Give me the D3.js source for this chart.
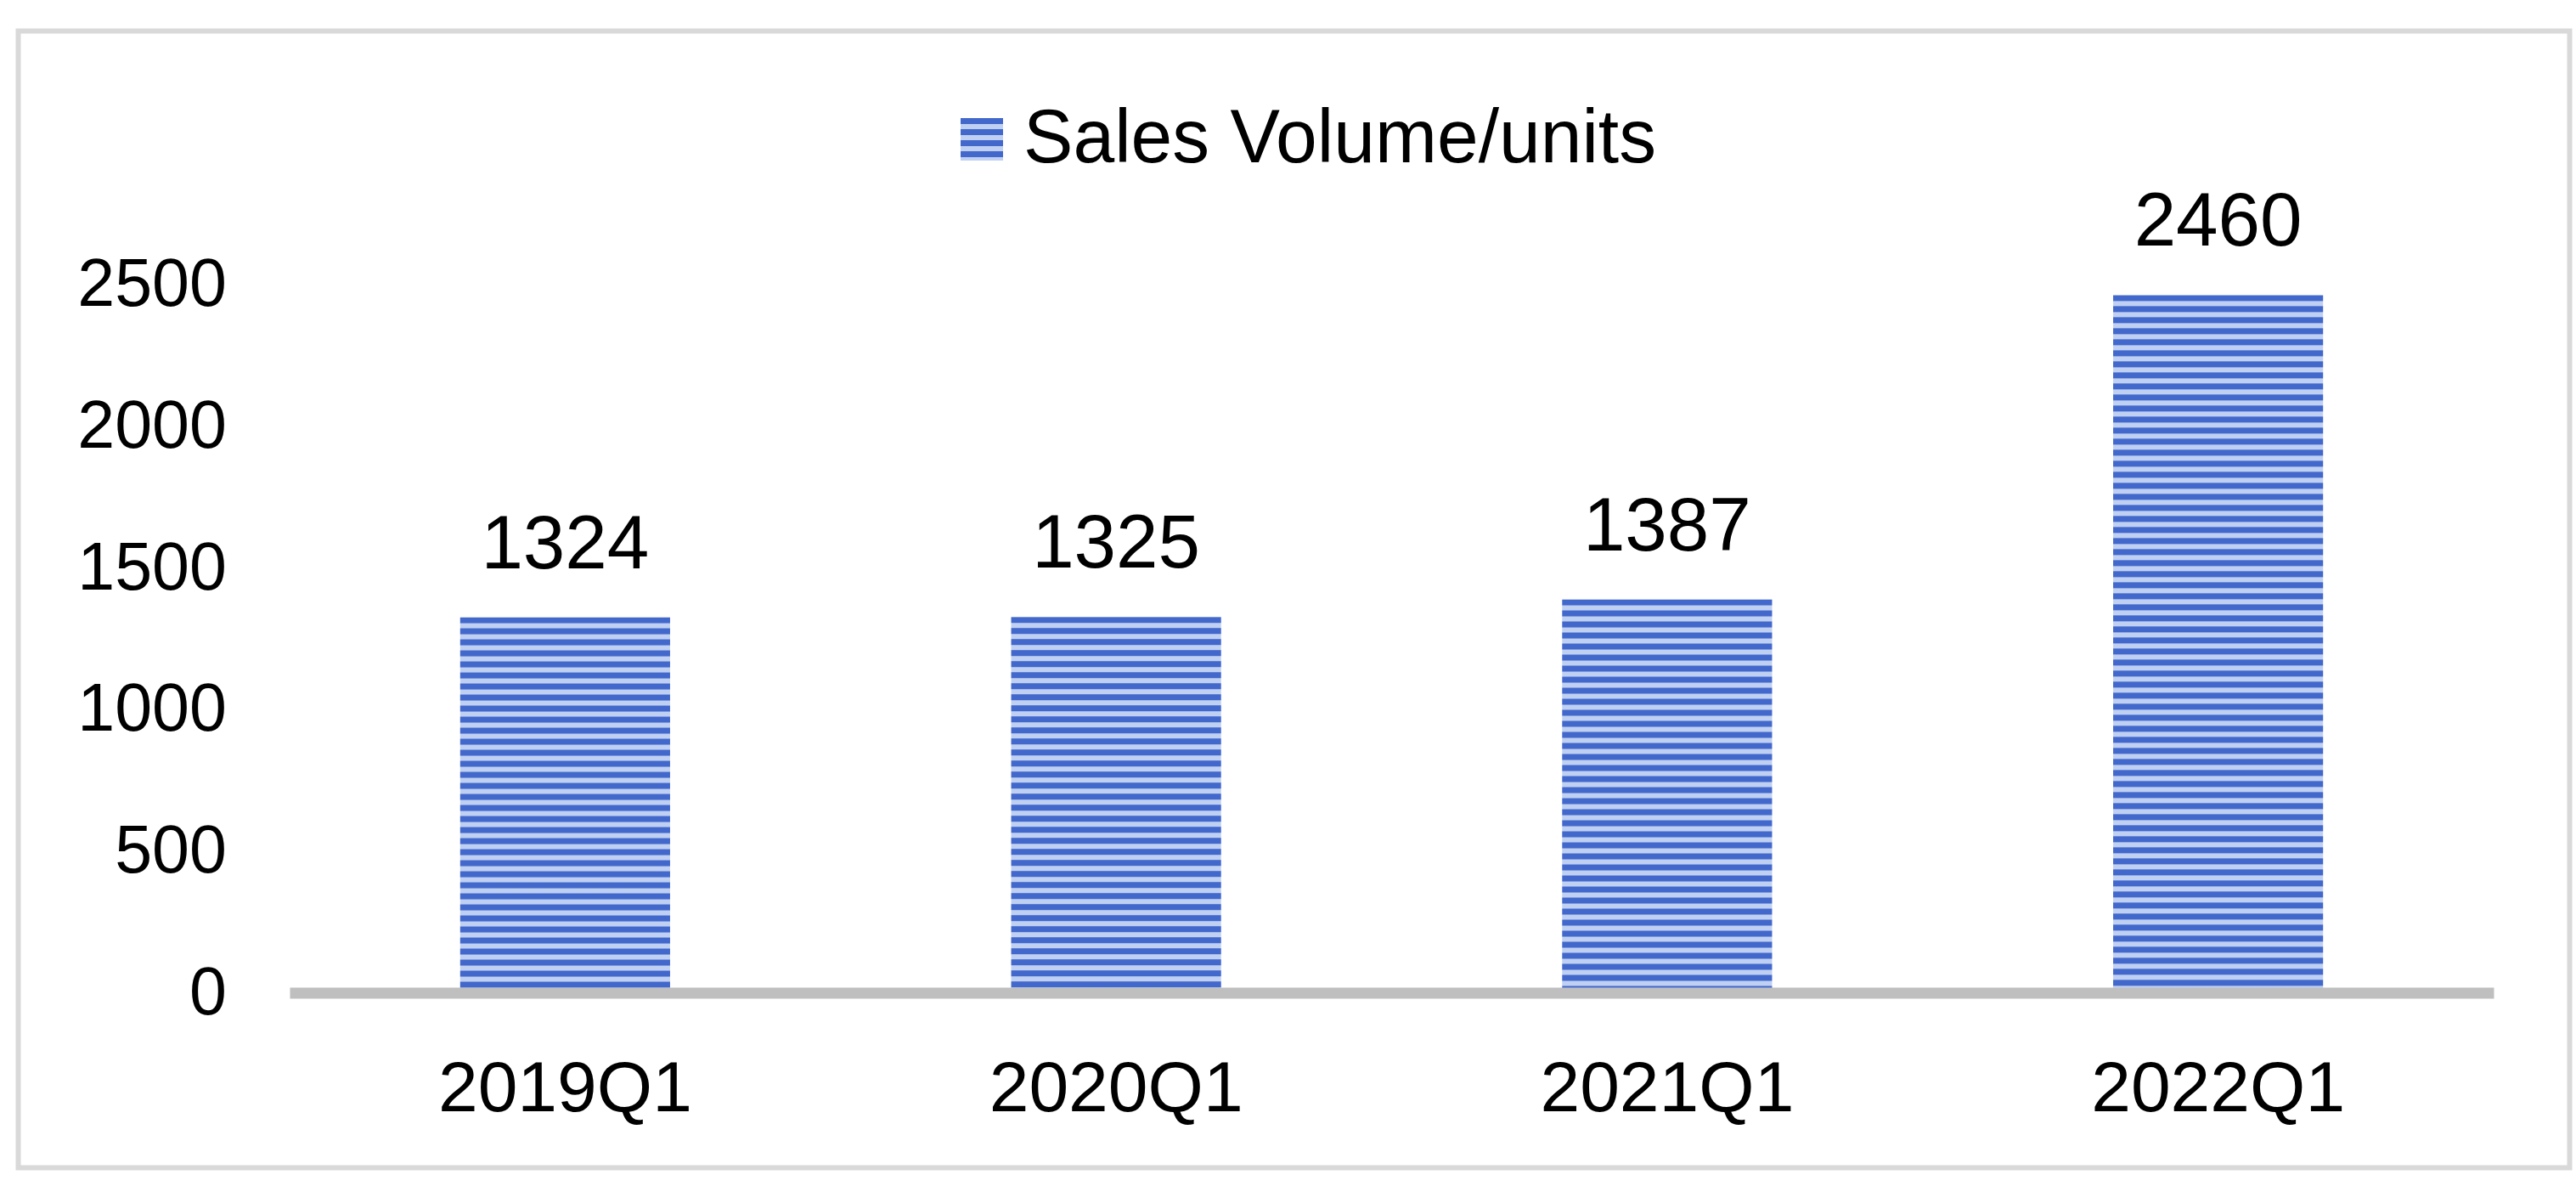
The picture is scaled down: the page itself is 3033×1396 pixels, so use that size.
<!DOCTYPE html>
<html>
<head>
<meta charset="utf-8">
<script src="https://cdn.jsdelivr.net/npm/d3@7"></script>
<style>
  html, body { margin: 0; padding: 0; background: #ffffff; }
  svg { display: block; }
</style>
</head>
<body>
<div id="chart"></div>
<script>
// ---- data ----
const categories = ["2019Q1", "2020Q1", "2021Q1", "2022Q1"];
const salesVolume = [1324, 1325, 1387, 2460];
const seriesName = "Sales Volume/units";
const yTicks = [0, 500, 1000, 1500, 2000, 2500];

// ---- layout ----
const W = 3033, H = 1396;
const plot = { left: 341, right: 2936, top: 334, bottom: 1168.5 };
const FONT = "'Liberation Sans', Arial, sans-serif";
const dark = "#4268cc", light = "#bfd0f2";
const period = 13, darkH = 7;

const svg = d3.select("#chart").append("svg")
  .attr("width", W).attr("height", H)
  .style("background", "#ffffff");

// chart frame
svg.append("rect")
  .attr("x", 21.5).attr("y", 36.5)
  .attr("width", 3004).attr("height", 1338)
  .attr("fill", "#ffffff")
  .attr("stroke", "#d9d9d9").attr("stroke-width", 6);

const x = d3.scaleBand()
  .domain(categories)
  .range([plot.left, plot.right])
  .paddingInner(0.619)
  .paddingOuter(0.3095);

const y = d3.scaleLinear()
  .domain([0, 2500])
  .range([plot.bottom, plot.top]);

const data = categories.map((c, i) => ({ cat: c, value: salesVolume[i], i }));

// stripe patterns (one per bar so that each bar starts with a dark stripe at its top)
const defs = svg.append("defs");
function makePattern(id, y0) {
  const p = defs.append("pattern")
    .attr("id", id)
    .attr("patternUnits", "userSpaceOnUse")
    .attr("x", 0).attr("y", y0)
    .attr("width", 20).attr("height", period);
  p.append("rect").attr("width", 20).attr("height", period).attr("fill", light);
  p.append("rect").attr("width", 20).attr("height", darkH).attr("fill", dark);
}
data.forEach(d => makePattern("stripe" + d.i, y(d.value)));
makePattern("stripeLegend", 139);

// y axis (labels only)
const yAxis = d3.axisLeft(y).tickValues(yTicks).tickSize(0).tickPadding(74)
  .tickFormat(d3.format("d"));
const gy = svg.append("g").attr("transform", `translate(${plot.left},0)`).call(yAxis);
gy.select(".domain").remove();
gy.selectAll("text")
  .attr("font-family", FONT).attr("font-size", 79).attr("fill", "#000");

// bars
svg.append("g").selectAll("rect")
  .data(data)
  .join("rect")
  .attr("x", d => x(d.cat))
  .attr("width", x.bandwidth())
  .attr("y", d => y(d.value))
  .attr("height", d => y(0) - y(d.value))
  .attr("fill", d => `url(#stripe${d.i})`);

// x axis
const xAxis = d3.axisBottom(x).tickSize(0).tickSizeOuter(0);
const gx = svg.append("g").attr("transform", `translate(0,${plot.bottom})`).call(xAxis);
gx.select(".domain").attr("stroke", "#bfbfbf").attr("stroke-width", 13);
gx.selectAll("text")
  .attr("font-family", FONT).attr("font-size", 84).attr("fill", "#000")
  .attr("y", 139.5).attr("dy", 0);

// data labels
svg.append("g").selectAll("text")
  .data(data)
  .join("text")
  .attr("x", d => x(d.cat) + x.bandwidth() / 2)
  .attr("y", d => y(d.value) - 58)
  .attr("text-anchor", "middle")
  .attr("font-family", FONT).attr("font-size", 89).attr("fill", "#000")
  .text(d => d.value);

// legend
const lg = svg.append("g");
lg.append("rect")
  .attr("x", 1131).attr("y", 139).attr("width", 50).attr("height", 50)
  .attr("fill", "url(#stripeLegend)");
lg.append("text")
  .attr("x", 1205).attr("y", 191)
  .attr("font-family", FONT).attr("font-size", 89).attr("fill", "#000")
  .attr("textLength", 745).attr("lengthAdjust", "spacingAndGlyphs")
  .text(seriesName);
</script>
</body>
</html>
